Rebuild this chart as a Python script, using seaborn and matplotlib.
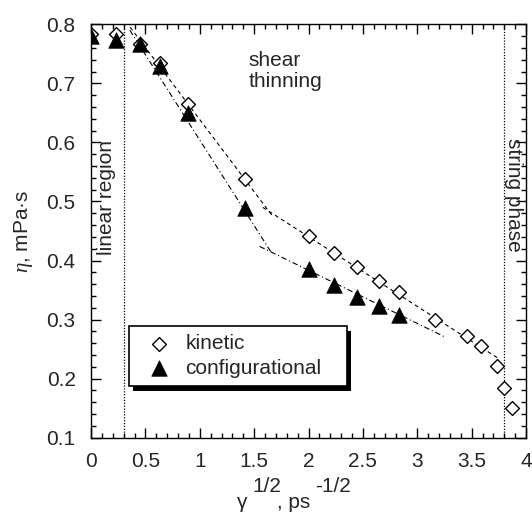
import matplotlib
matplotlib.use("Agg")
import matplotlib.pyplot as plt
import matplotlib.patheffects as pe
from matplotlib.ticker import MultipleLocator, FuncFormatter
import seaborn as sns
import pandas as pd

# data
kin_x = [0.0, 0.226, 0.45, 0.635, 0.894, 1.414, 2.0, 2.236, 2.444,
         2.645, 2.83, 3.16, 3.46, 3.59, 3.735, 3.80, 3.873]
kin_y = [0.783, 0.783, 0.767, 0.734, 0.665, 0.538, 0.442, 0.412, 0.389,
         0.366, 0.347, 0.300, 0.272, 0.255, 0.222, 0.184, 0.150]
conf_x = [0.0, 0.226, 0.45, 0.635, 0.894, 1.414, 2.0, 2.236, 2.444,
          2.645, 2.83]
conf_y = [0.780, 0.773, 0.767, 0.730, 0.649, 0.489, 0.385, 0.358, 0.339,
          0.323, 0.308]

# piecewise linear fits (two segments each)
kin_fit_x = [[0.36, 1.67], [1.58, 3.74]]
kin_fit_y = [[0.795, 0.475], [0.490, 0.235]]
conf_fit_x = [[0.357, 1.66], [1.55, 3.25]]
conf_fit_y = [[0.790, 0.413], [0.424, 0.271]]

region_limits = [0.3, 3.8]

x_ticks = [0, 0.5, 1, 1.5, 2, 2.5, 3, 3.5, 4]
y_ticks = [0.1, 0.2, 0.3, 0.4, 0.5, 0.6, 0.7, 0.8]

sns.set_style("ticks")
plt.rcParams['font.family'] = ['Liberation Sans', 'DejaVu Sans']
plt.rcParams['mathtext.fontset'] = 'custom'
plt.rcParams['mathtext.it'] = 'Liberation Serif:italic'

W, H = 532, 516
fig = plt.figure(figsize=(W / 100, H / 100), dpi=100)
ax = fig.add_axes([91 / W, 1 - 437.7 / H, (526 - 91) / W, (437.7 - 24.3) / H])

kin = pd.DataFrame({'x': kin_x, 'y': kin_y})
conf = pd.DataFrame({'x': conf_x, 'y': conf_y})

# fit lines
for xs, ys in zip(kin_fit_x, kin_fit_y):
    sns.lineplot(x=xs, y=ys, ax=ax, color='black', lw=0.8, sort=False,
                 zorder=2).lines[-1].set_dashes((3.5, 3))
for xs, ys in zip(conf_fit_x, conf_fit_y):
    sns.lineplot(x=xs, y=ys, ax=ax, color='black', lw=0.8, sort=False,
                 zorder=2).lines[-1].set_dashes((5, 2.5, 1, 2.5))

# region borders
for xv in region_limits:
    ax.axvline(xv, color='black', lw=0.9, ls=(0, (1, 1.3)), zorder=1)

sns.scatterplot(data=kin, x='x', y='y', marker='D', s=50,
                facecolor='white', edgecolor='black', linewidth=1.0,
                label='kinetic', ax=ax, zorder=3)
sns.scatterplot(data=conf, x='x', y='y', marker='^', s=125,
                color='black', edgecolor='black', linewidth=0.5,
                label='configurational', ax=ax, zorder=4)

ax.set_xlim(0, 4)
ax.set_ylim(0.1, 0.8)
ax.set_xticks(x_ticks)
ax.set_yticks(y_ticks)
ax.xaxis.set_minor_locator(MultipleLocator(0.1))
ax.yaxis.set_minor_locator(MultipleLocator(0.02))
ax.xaxis.set_major_formatter(FuncFormatter(lambda v, p: f"{v:g}"))
ax.yaxis.set_major_formatter(FuncFormatter(lambda v, p: f"{v:.1f}"))
ax.tick_params(which='both', direction='in', top=True, right=True,
               width=1, labelsize=15, color='black')
ax.tick_params(which='major', length=7)
ax.tick_params(which='minor', length=3.5)
ax.tick_params(axis='x', pad=10)
ax.tick_params(axis='y', pad=11)
for sp in ax.spines.values():
    sp.set_linewidth(1.0)
    sp.set_color('black')

ax.set_xlabel('')
ax.set_ylabel(r'$\eta$, mPa·s', fontsize=15, labelpad=8)

# x label made of pieces with full-size superscripts
fig.text(241.7 / W, 1 - 508 / H, 'γ', fontsize=15, ha='center',
         va='baseline')
fig.text(266.7 / W, 1 - 491.5 / H, '1/2', fontsize=15, ha='center',
         va='baseline')
fig.text(294 / W, 1 - 508 / H, ', ps', fontsize=15, ha='center',
         va='baseline')
fig.text(333 / W, 1 - 491.5 / H, '-1/2', fontsize=15, ha='center',
         va='baseline')

ax.text(0.146, 0.507, 'linear region', rotation=90, fontsize=15,
        ha='center', va='center')
ax.text(3.885, 0.512, 'string phase', rotation=-90, fontsize=15,
        ha='center', va='center')
ax.text(1.45, 0.754, 'shear\nthinning', fontsize=15, ha='left', va='top',
        linespacing=1.1)

leg = ax.legend(loc='upper left', bbox_to_anchor=(0.35, 0.181, 2.0, 0.108),
                bbox_transform=ax.transData, mode='expand',
                borderaxespad=0, fontsize=15, frameon=True, fancybox=False,
                borderpad=0.4, handlelength=2.1, handletextpad=0.2,
                labelspacing=0.25)
frame = leg.get_frame()
frame.set_edgecolor('black')
frame.set_linewidth(1.2)
frame.set_alpha(1)
frame.set_path_effects([pe.SimplePatchShadow(offset=(3, -3.5),
                                             shadow_rgbFace='black',
                                             alpha=1),
                        pe.Normal()])

fig.savefig('out.png', dpi=100)
